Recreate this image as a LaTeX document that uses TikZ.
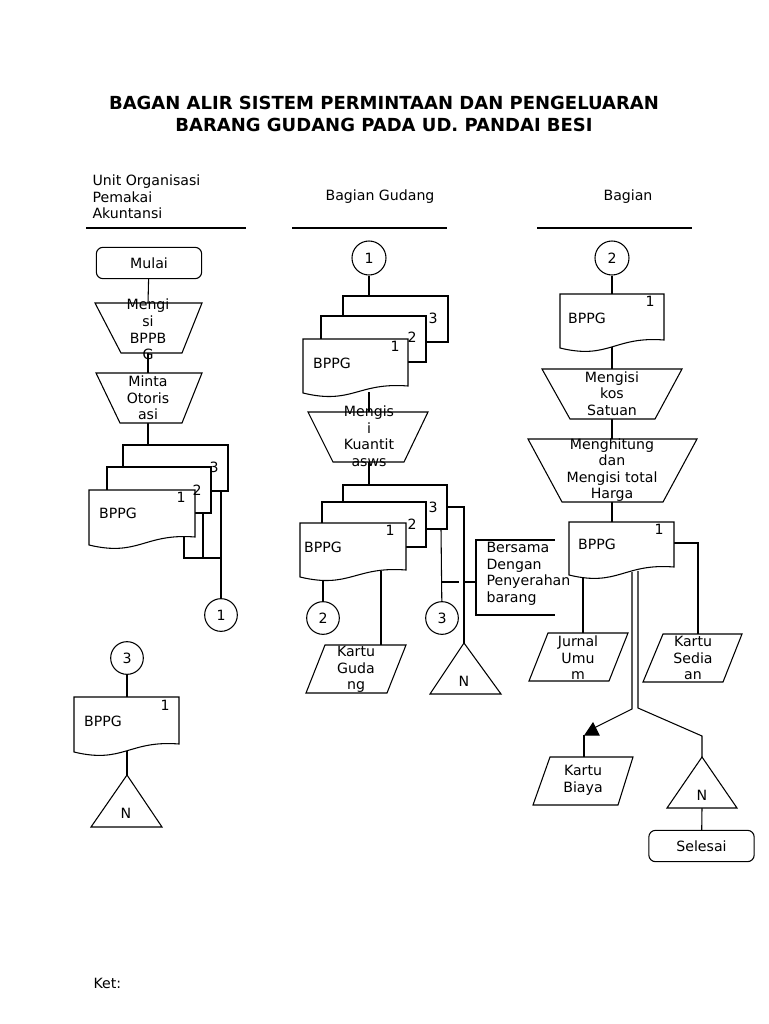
\documentclass[tikz,border=0pt]{standalone}
\usepackage{fontspec}
\setmainfont{DejaVu Sans}
\usetikzlibrary{backgrounds}
\newcommand\wavedoc[5]{% L T R BL BR
  \pgfmathsetmacro\wdca{#1+0.47*(#3-#1)}
  \pgfmathsetmacro\wdcb{#1+0.52*(#3-#1)}
  \pgfmathsetmacro\wdya{#4+12}
  \pgfmathsetmacro\wdyb{#5-4}
  \draw[shp] (#1,#2) -- (#3,#2) -- (#3,#5) .. controls (\wdcb,\wdyb) and (\wdca,\wdya) .. (#1,#4) -- cycle;
}
\begin{document}
\begin{tikzpicture}[x=0.75pt,y=-0.75pt,line width=0.8pt,
  every node/.style={font=\fontsize{10.6}{12.4}\selectfont,inner sep=0pt},
  txt/.style={align=center},
  conn/.style={draw,line width=0.8pt,circle,minimum size=24.5pt,fill=white},
  term/.style={draw,line width=0.8pt,rounded corners=5pt,minimum width=79pt,minimum height=23.5pt,fill=white},
  shp/.style={draw,line width=0.8pt,fill=white},
  lk/.style={draw,line width=0.8pt},
  tipfill/.style={fill=black}]
\useasboundingbox (0,0) rectangle (768,1024);

% ---------- title and headers ----------
\node[align=center,font=\fontsize{13.5}{16.5}\selectfont\bfseries] (title) at (384,114)
  {BAGAN ALIR SISTEM PERMINTAAN DAN PENGELUARAN\\BARANG GUDANG PADA UD. PANDAI BESI};
\node[align=left,anchor=west] (h1) at (92,197) {Unit Organisasi\\Pemakai\\Akuntansi};
\node (h2) at (380,197) {Bagian Gudang};
\node (h3) at (628,197) {Bagian};
\coordinate (h1l) at (86,228); \coordinate (h1r) at (246,228);
\coordinate (h2l) at (292,228); \coordinate (h2r) at (447,228);
\coordinate (h3l) at (537,228); \coordinate (h3r) at (692,228);
\draw[lk] (h1l) -- (h1r); \draw[lk] (h2l) -- (h2r); \draw[lk] (h3l) -- (h3r);
\node[anchor=west] (ket) at (93,983) {Ket:};

% ---------- column 1 ----------
\node[term] (mulai) at (149,263) {Mulai};
\draw[shp] (95,303) -- (202,303) -- (182,353) -- (121,353) -- cycle;
\coordinate (tr1t) at (148,303); \coordinate (tr1b) at (148,353);
\node[txt] (tr1) at (148,329.5) {Mengi\\si\\BPPB\\G};
\draw[shp] (96,373) -- (202,373) -- (182,423) -- (120,423) -- cycle;
\coordinate (tr2t) at (148,373); \coordinate (tr2b) at (148,423);
\node[txt] (tr2) at (148,398) {Minta\\Otoris\\asi};
\draw[shp] (123,445) rectangle (228,491);
\draw[shp] (107,467) rectangle (211,513);
\wavedoc{89}{490}{195}{545}{537}
\node (s1n3) at (214,467) {3};
\node (s1n2) at (197,490) {2};
\node (s1n1) at (181,497) {1};
\node (s1doc) at (118,513) {BPPG};
\coordinate (s1top) at (148,445);
\coordinate (s1a) at (184,537); \coordinate (s1ab) at (184,558);
\coordinate (s1b) at (203,513); \coordinate (s1bb) at (203,558);
\coordinate (s1c) at (221,491); \coordinate (s1cb) at (221,558);
\node[conn] (k1) at (221,615) {1};

\node[conn] (k3a) at (127,658) {3};
\wavedoc{74}{697}{179}{752}{744}
\coordinate (d4t) at (127,697); \coordinate (d4b) at (127,750);
\node (d4n) at (165,705) {1};
\node (d4) at (103,721) {BPPG};
\draw[shp] (127,775) -- (162,827) -- (91,827) -- cycle;
\coordinate (n1t) at (127,775);
\node (n1) at (126,813) {N};

% ---------- column 2 ----------
\node[conn,minimum size=25.5pt] (k1b) at (369,258) {1};
\draw[shp] (343,296) rectangle (448,342);
\draw[shp] (321,316) rectangle (426,362);
\wavedoc{303}{339}{408}{393}{386}
\node (s2n3) at (433,318) {3};
\node (s2n2) at (412,337) {2};
\node (s2n1) at (395,346) {1};
\node (s2doc) at (332,363) {BPPG};
\coordinate (s2top) at (369,296); \coordinate (s2bot) at (369,392);
\draw[shp] (308,412) -- (428,412) -- (404,462) -- (333,462) -- cycle;
\coordinate (tr3t) at (369,412); \coordinate (tr3b) at (369,462);
\node[txt] (tr3) at (369,436) {Mengis\\i\\Kuantit\\asws};
\draw[shp] (343,485) rectangle (447,529);
\draw[shp] (322,502) rectangle (426,547);
\wavedoc{300}{523}{406}{577}{570}
\node (s3n3) at (433,507) {3};
\node (s3n2) at (412,524) {2};
\node (s3n1) at (390,530) {1};
\node (s3doc) at (323,547) {BPPG};
\coordinate (s3top) at (369,485);
\coordinate (s3a) at (323,578); \coordinate (s3b) at (381,571);
\coordinate (s3c) at (441,529); \coordinate (s3r) at (447,507);
\coordinate (s3rc) at (464,507);
\node[conn] (k2a) at (323,618) {2};
\node[conn] (k3b) at (442,618) {3};
\coordinate (dsh1) at (442,582); \coordinate (dsh2) at (476,582);
\coordinate (br1) at (555,540); \coordinate (br2) at (476,540);
\coordinate (br3) at (476,615); \coordinate (br4) at (555,615);
\draw[lk] (br1) -- (br2) -- (br3) -- (br4);
\node[align=left,anchor=west] (note) at (486,574) {Bersama\\Dengan\\Penyerahan\\barang};
\draw[shp] (325,645) -- (406,645) -- (387,693) -- (306,693) -- cycle;
\coordinate (kgt) at (381,645);
\node[txt] (kg) at (356,669.5) {Kartu\\Guda\\ng};
\draw[shp] (464,643) -- (501,694) -- (430,694) -- cycle;
\coordinate (n2t) at (464,643);
\node (n2) at (464,681) {N};

% ---------- column 3 ----------
\node[conn,minimum size=25.5pt] (k2b) at (612,258) {2};
\wavedoc{560}{294}{664}{348}{340}
\node (d5n) at (650,301) {1};
\node (d5) at (587,318) {BPPG};
\coordinate (d5t) at (612,294); \coordinate (d5b) at (612,346);
\draw[shp] (542,369) -- (682,369) -- (655,419) -- (570,419) -- cycle;
\coordinate (tr4t) at (612,369); \coordinate (tr4b) at (612,419);
\node[txt] (tr4) at (612,393.5) {Mengisi\\kos\\Satuan};
\draw[shp] (528,439) -- (697,439) -- (663,502) -- (562,502) -- cycle;
\coordinate (tr5t) at (612,439); \coordinate (tr5b) at (612,502);
\node[txt] (tr5) at (612,470) {Menghitung\\dan\\Mengisi total\\Harga};
\wavedoc{569}{522}{674}{575}{567}
\node (d6n) at (659,529) {1};
\node (d6) at (597,544) {BPPG};
\coordinate (d6t) at (612,522);
\coordinate (d6r) at (674,543); \coordinate (d6rc) at (698,543);
\coordinate (d6l) at (583,577);
\coordinate (dla) at (632,572); \coordinate (dlb) at (632,709);
\coordinate (dra) at (638,571); \coordinate (drb) at (638,708);
\coordinate (arw) at (592,729);
\coordinate (kbv) at (584,735);
\coordinate (rbc) at (702,736);
\draw[shp] (548,633) -- (628,633) -- (609,681) -- (529,681) -- cycle;
\coordinate (jut) at (583,633);
\node[txt] (ju) at (578,658) {Jurnal\\Umu\\m};
\draw[shp] (663,634) -- (742,634) -- (723,682) -- (643,682) -- cycle;
\coordinate (kst) at (698,634);
\node[txt] (ks) at (693,658) {Kartu\\Sedia\\an};
\draw[tipfill] (585,735) -- (599,735) -- (593,723) -- cycle;
\draw[shp] (550,757) -- (633,757) -- (618,805) -- (533,805) -- cycle;
\coordinate (kbt) at (584,757);
\node[txt] (kb) at (583,780.5) {Kartu\\Biaya};
\draw[shp] (702,757) -- (737,808) -- (667,808) -- cycle;
\coordinate (n3t) at (702,757); \coordinate (n3b) at (702,808);
\node (n3) at (702,795) {N};
\node[term] (sel) at (701.5,846) {Selesai};

% ---------- connectors ----------
\begin{pgfonlayer}{background}
\begin{scope}[line width=0.8pt]
\draw[lk] (mulai) -- (tr1t);
\draw[lk] (tr1b) -- (tr2t);
\draw[lk] (tr2b) -- (s1top);
\draw[lk] (s1a) -- (s1ab) -- (s1cb);
\draw[lk] (s1b) -- (s1bb);
\draw[lk] (s1c) -- (k1);
\draw[lk] (k3a) -- (d4t);
\draw[lk] (d4b) -- (n1t);
\draw[lk] (k1b) -- (s2top);
\draw[lk] (s2bot) -- (tr3t);
\draw[lk] (tr3b) -- (s3top);
\draw[lk] (s3a) -- (k2a);
\draw[lk] (s3b) -- (kgt);
\draw[lk] (s3c) -- (k3b);
\draw[lk] (s3r) -- (s3rc) -- (n2t);
\draw[lk,dash pattern=on 13pt off 4pt] (dsh1) -- (dsh2);
\draw[lk] (k2b) -- (d5t);
\draw[lk] (d5b) -- (tr4t);
\draw[lk] (tr4b) -- (tr5t);
\draw[lk] (tr5b) -- (d6t);
\draw[lk] (d6r) -- (d6rc) -- (kst);
\draw[lk] (d6l) -- (jut);
\draw[lk] (dla) -- (dlb) -- (arw);
\draw[lk] (kbv) -- (kbt);
\draw[lk] (dra) -- (drb) -- (rbc) -- (n3t);
\draw[lk] (n3b) -- (sel);
\end{scope}
\end{pgfonlayer}
\end{tikzpicture}
\end{document}
